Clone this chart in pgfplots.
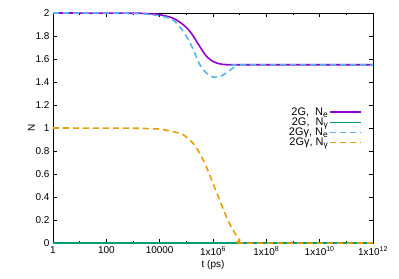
\documentclass[border=0pt]{standalone}
\usepackage{pgfplots}
\pgfplotsset{compat=1.18}
\usepackage{fontspec}
\setmainfont{Liberation Sans}
\usetikzlibrary{calc}
\definecolor{cpurple}{HTML}{9400D3}
\definecolor{cgreen}{HTML}{009E73}
\definecolor{cblue}{HTML}{56B4E9}
\definecolor{corange}{HTML}{E69F00}
\newcommand{\sub}[1]{\raisebox{-0.3ex}{\fontsize{8.5}{9}\selectfont #1}}
\pgfplotsset{legend image code/.code={\draw[#1] (0bp,0bp) -- (31bp,0bp);}}
\begin{document}
\begin{tikzpicture}
\begin{axis}[
  scale only axis, width=320bp, height=230bp,
  xmin=0, xmax=12, ymin=0, ymax=2,
  xtick={0,2,4,6,8,10,12},
  xticklabels={1,100,10000,1x10\textsuperscript{6},1x10\textsuperscript{8},1x10\textsuperscript{10},1x10\textsuperscript{12}},
  minor x tick num=1,
  ytick={0,0.2,0.4,0.6,0.8,1,1.2,1.4,1.6,1.8,2},
  tick align=inside,
  major tick length=4bp, minor tick length=2bp,
  axis line style={line width=0.8pt},
  every tick/.style={black, line width=0.6pt},
  /pgf/number format/assume math mode=true,
  tick label style={font=\fontsize{10}{12}\selectfont},
  label style={font=\fontsize{10}{12}\selectfont},
  xlabel={t (ps)}, ylabel={N},
  xlabel style={yshift=2bp},
  ylabel style={yshift=-6bp},
  legend cell align=right,
  legend plot pos=right,
  legend style={draw=none, fill=none, at={(axis description cs:0.969,0.6)}, anchor=north east,
    font=\fontsize{11}{12}\selectfont, row sep=-2.1bp, inner sep=1bp,
    nodes={inner sep=1.5bp}},
  every axis plot/.append style={line width=1.6pt},
]
\coordinate (bl) at (rel axis cs:0,0);
\coordinate (tr) at (rel axis cs:1,1);
\addplot[cpurple, smooth, tension=0.5] coordinates {
(0,2) (3,1.998) (3.5,1.995) (4.0,1.985) (4.5,1.955) (4.9,1.895) (5.15,1.835) (5.3,1.785) (5.5,1.71) (5.75,1.625) (6.0,1.578) (6.25,1.558) (6.5,1.551) (7,1.55) (12,1.55)};
\addlegendentry{2G,\ \ N\sub{e}}
\addplot[cgreen] coordinates {(0,0) (12,0)};
\addlegendentry{2G,\ \ N\sub{γ}}
\addplot[cblue, smooth, tension=0.5, dash pattern=on 6bp off 4bp] coordinates {
(0,2) (3,1.997) (3.5,1.99) (4.0,1.975) (4.5,1.94) (4.9,1.835) (5.15,1.735) (5.3,1.66) (5.5,1.553) (5.7,1.49) (5.9,1.452) (6.1,1.441) (6.3,1.452) (6.5,1.478) (6.65,1.505) (6.9,1.542) (7.1,1.55) (12,1.55)};
\addlegendentry{2Gγ, N\sub{e}}
\addplot[corange, smooth, tension=0.5, dash pattern=on 6bp off 4bp] coordinates {
(0,1) (3,0.998) (3.5,0.995) (4.0,0.99) (4.5,0.968) (4.9,0.939) (5.25,0.867) (5.5,0.78) (5.75,0.664) (6.0,0.519) (6.25,0.374) (6.5,0.229) (6.75,0.113) (7.0,0.025) (7.15,0) (12,0)};
\addlegendentry{2Gγ, N\sub{γ}}
\end{axis}
\pgfresetboundingbox
\path[use as bounding box] ($(bl)+(-53bp,-36bp)$) rectangle ($(tr)+(26bp,13bp)$);
\end{tikzpicture}
\end{document}
